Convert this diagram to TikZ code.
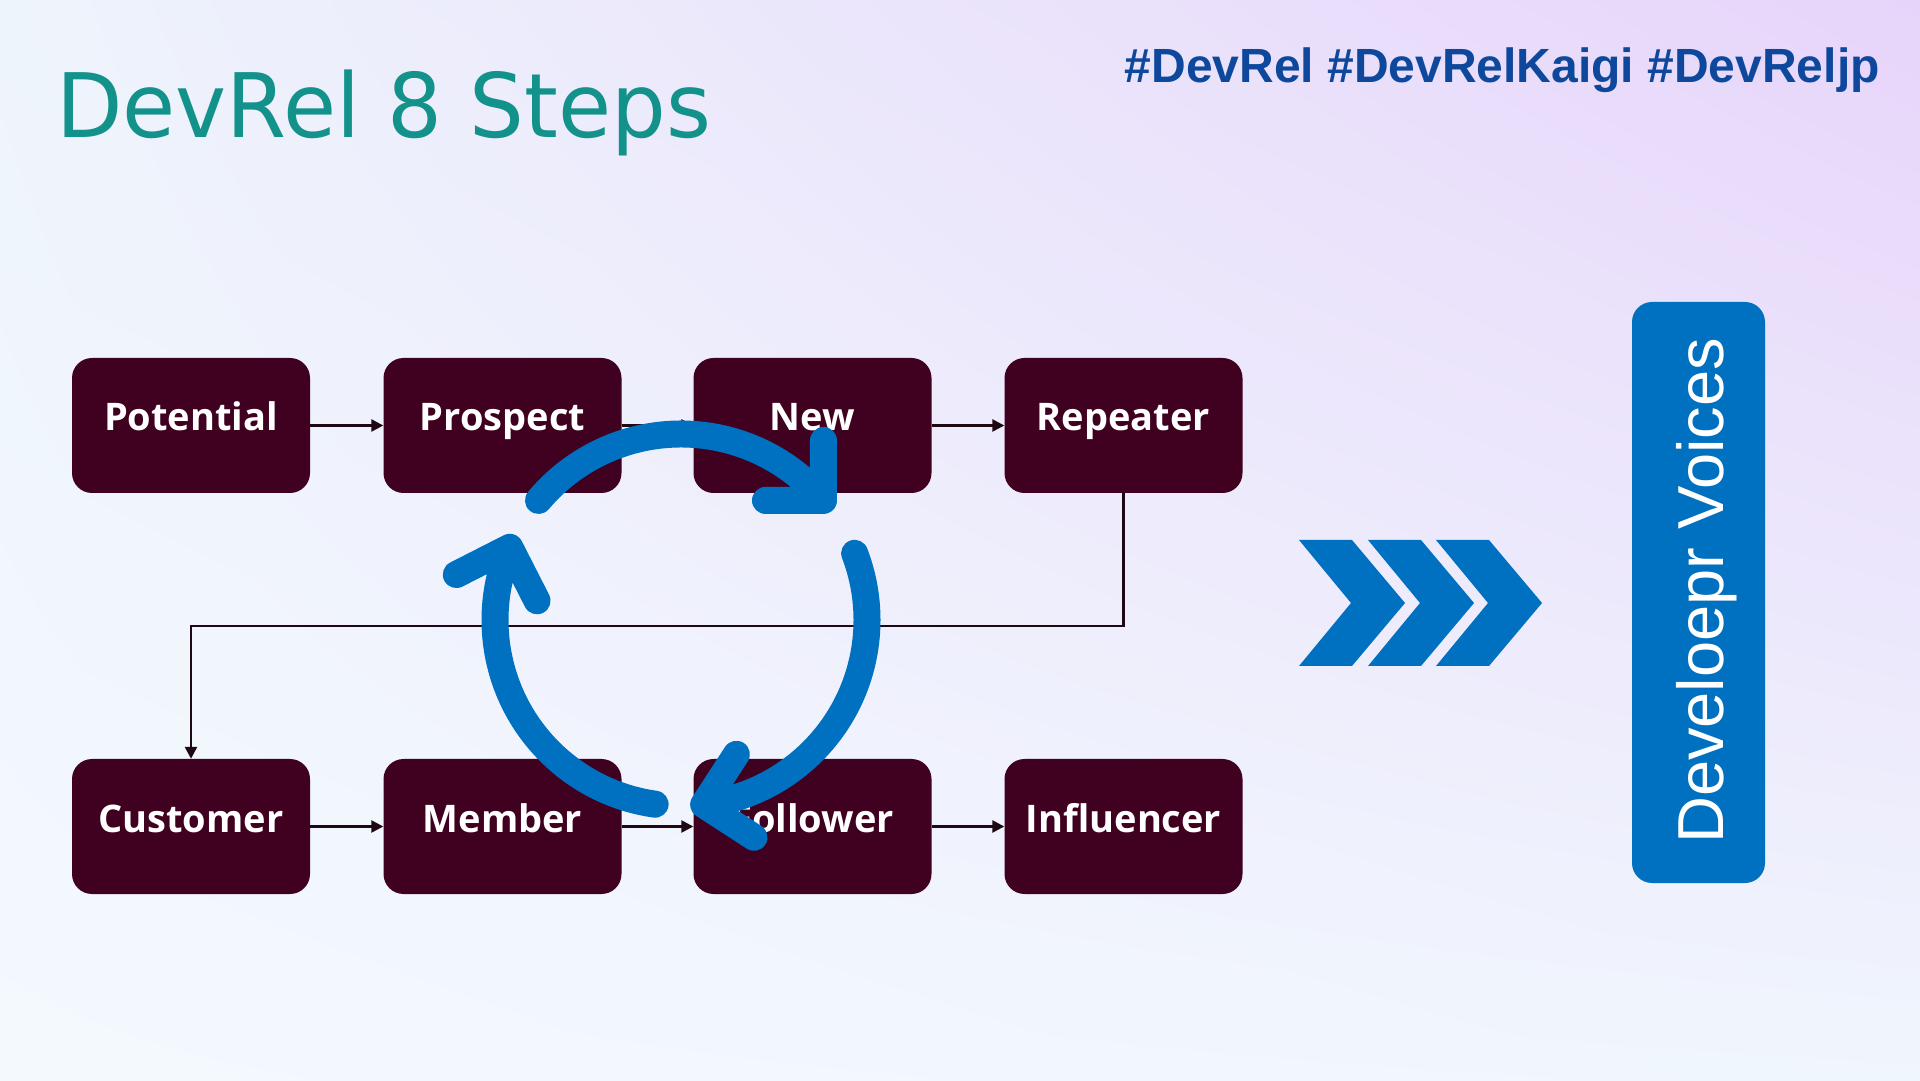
\documentclass[tikz,border=0pt]{standalone}
\usepackage{fontspec}
\setmainfont{DejaVu Sans}
\IfFontExistsTF{Noto Sans Bold}{\newfontfamily\boxfont{Noto Sans Bold}}{%
  \IfFontExistsTF{Open Sans Bold}{\newfontfamily\boxfont{Open Sans Bold}}{\newfontfamily\boxfont{DejaVu Sans Bold}}}
\newfontfamily\arialfont{Liberation Sans}
\newfontfamily\titlefont{DejaVu Sans}
\usetikzlibrary{arrows.meta,shadings}
\definecolor{boxfill}{RGB}{64,0,32}
\definecolor{cycblue}{RGB}{0,112,192}
\definecolor{titleteal}{RGB}{18,146,138}
\definecolor{tagblue}{RGB}{14,72,156}
\definecolor{linecol}{RGB}{30,8,20}
\definecolor{bgul}{RGB}{238,244,252}
\definecolor{bgur}{RGB}{231,212,250}
\definecolor{bgll}{RGB}{244,249,254}
\definecolor{bglr}{RGB}{240,246,253}
\begin{document}
\begin{tikzpicture}[x=1pt,y=1pt,
  stepbox/.style={fill=boxfill, rounded corners=20pt, minimum width=238pt, minimum height=135pt,
    text=white, font=\boxfont\fontsize{38}{40}\selectfont,
    text height=30pt, text depth=19pt, inner sep=0pt},
  conn/.style={draw=linecol, line width=2.5pt, -{Triangle[length=12pt,width=12pt]}},
  cyc/.style={draw=cycblue, line width=27pt, line cap=round, line join=round},
  chev/.style={fill=cycblue}]
\useasboundingbox (0,0) rectangle (1920,1080);
\shade[upper left=bgul, upper right=bgur, lower left=bgll, lower right=bglr] (0,0) rectangle (1920,1080);

% titles
\node[anchor=base west, inner sep=0pt, text=titleteal, font=\titlefont\fontsize{89}{100}\selectfont] (title) at (56,942) {\scalebox{0.97}[1]{DevRel 8 Steps}};
\node[anchor=base east, inner sep=0pt, text=tagblue, font=\arialfont\bfseries\fontsize{48}{50}\selectfont] (tags) at (1880,997) {\#DevRel \#DevRelKaigi \#DevReljp};

% step boxes
\node[stepbox] (pot) at (191,654.5) {Potential};
\node[stepbox] (pro) at (502.5,654.5) {Prospect};
\node[stepbox] (new) at (812.5,654.5) {New};
\node[stepbox] (rep) at (1123.5,654.5) {Repeater};
\node[stepbox] (cus) at (191,253.5) {Customer};
\node[stepbox] (mem) at (502.5,253.5) {Member};
\node[stepbox] (fol) at (812.5,253.5) {Follower};
\node[stepbox] (inf) at (1123.5,253.5) {Influencer};

% connectors
\draw[conn] (pot) -- (pro);
\draw[conn] (pro) -- (new);
\draw[conn] (new) -- (rep);
\draw[conn] (cus) -- (mem);
\draw[conn] (mem) -- (fol);
\draw[conn] (fol) -- (inf);
\coordinate (turnR) at (1123.5,454);
\coordinate (turnL) at (191,454);
\draw[conn] (rep.south) -- (turnR) -- (turnL) -- (cus.north);

% cycle arrows
\coordinate (cc) at (681,460);
\draw[cyc] ([shift={(140:186)}]cc) arc[start angle=140,end angle=40,radius=186] coordinate (t1)
  -- ++(90:60) (t1) -- ++(180:58);
\draw[cyc] ([shift={(21:186)}]cc) arc[start angle=21,end angle=-83,radius=186] coordinate (t2)
  -- ++(57:60) (t2) -- ++(-33:60);
\draw[cyc] ([shift={(262:186)}]cc) arc[start angle=262,end angle=157,radius=186] coordinate (t3)
  -- ++(207:60) (t3) -- ++(297:60);

% chevrons
\foreach \x in {1299,1368,1436}{
  \fill[chev] (\x,540) -- (\x+53,540) -- (\x+106,477) -- (\x+53,414) -- (\x,414) -- (\x+52,477) -- cycle;
}

% developer voices
\node[fill=cycblue, rounded corners=20pt, minimum width=133pt, minimum height=581pt, inner sep=0pt] (dv) at (1698.5,487.5) {};
\node[rotate=90, anchor=base, inner sep=0pt, text=white, font=\arialfont\fontsize{65}{70}\selectfont] (dvt) at (1723,489) {Develoepr Voices};
\end{tikzpicture}
\end{document}
